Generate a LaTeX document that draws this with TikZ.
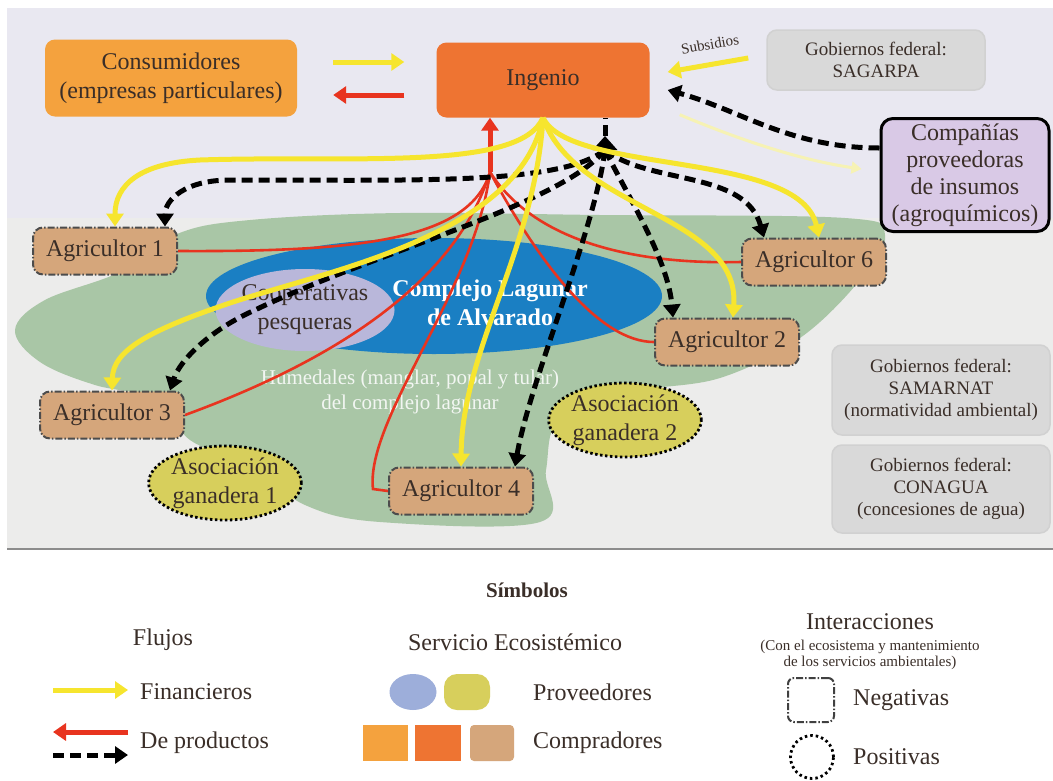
\documentclass[tikz,border=0pt]{standalone}
\usepackage{fontspec}
\setmainfont{Liberation Serif}
\usetikzlibrary{arrows.meta,calc,shapes.geometric}
\definecolor{bgtop}{HTML}{E9E8F1}
\definecolor{bgbot}{HTML}{ECECEB}
\definecolor{wet}{HTML}{A9C6A6}
\definecolor{lagoon}{HTML}{1A7FC3}
\definecolor{coop}{HTML}{B9B7DA}
\definecolor{legblue}{HTML}{9DAEDA}
\definecolor{consum}{HTML}{F4A23E}
\definecolor{ingcol}{HTML}{EE7432}
\definecolor{tan}{HTML}{D5A67B}
\definecolor{purp}{HTML}{D9C9E6}
\definecolor{gov}{HTML}{D9D9D9}
\definecolor{asoc}{HTML}{D7CF5C}
\definecolor{ylw}{HTML}{F6E52E}
\definecolor{pale}{HTML}{F6F2B4}
\definecolor{rd}{HTML}{E8341F}
\definecolor{txt}{HTML}{3A2E28}
\newcommand\fBig{\fontsize{24}{29}\selectfont}
\newcommand\fMid{\fontsize{19}{22}\selectfont}
\newcommand\fSm{\fontsize{15}{16}\selectfont}
\tikzset{
  box/.style={rounded corners=10pt, align=center, text=txt, font=\fBig, inner sep=2pt},
  agri/.style={box, fill=tan, draw=black!70, line width=2pt,
    dash pattern=on 7pt off 2pt on 1.5pt off 2pt, minimum width=144pt, minimum height=47pt},
  gob/.style={box, fill=gov, draw=black!18, line width=1.5pt, font=\fMid, minimum width=218pt},
  asc/.style={ellipse, fill=asoc, draw=black, line width=2.8pt, dash pattern=on 2.5pt off 2.5pt,
    align=center, text=txt, font=\fBig, inner sep=0pt, minimum width=140pt, minimum height=74pt},
  ylwarrow/.style={draw=ylw, line width=5pt, -{Triangle[width=17pt,length=13pt]}},
  redarrow/.style={draw=rd, line width=5pt, -{Triangle[width=17pt,length=13pt]}},
  redline/.style={draw=rd, line width=2.6pt},
  blkarrow/.style={draw=black, line width=5pt, dash pattern=on 11pt off 6pt, -{Triangle[width=17pt,length=13pt]}},
  blkline/.style={draw=black, line width=5pt, dash pattern=on 11pt off 6pt},
  lbl/.style={text=txt, font=\fBig, inner sep=0pt}
}
\begin{document}
\begin{tikzpicture}[x=1pt,y=-1pt]
\useasboundingbox (0,0) rectangle (1053,780);
\fill[white] (0,0) rectangle (1053,780);
\fill[bgtop] (7,8) rectangle (1053,218);
\fill[bgbot] (7,218) rectangle (1053,548);
\draw[black!45, line width=2.5pt] (7,549) -- (1053,549);

% wetland
\fill[wet] plot[smooth cycle, tension=0.6] coordinates {
 (177,234) (120,272) (45,300) (15,330) (40,362) (95,385) (160,400) (190,440)
 (255,468) (305,505) (380,522) (540,522) (546,470) (560,418) (630,392) (720,378)
 (800,338) (860,280) (885,235) (845,218) (600,215) (400,213) (250,220)};
% lagoon
\fill[lagoon] (434,296) ellipse [x radius=228, y radius=58];
\node[ellipse, fill=coop, minimum width=150pt, minimum height=82pt, inner sep=0pt,
  align=center, text=txt, font=\fBig] (coopn) at (305,310) {Cooperativas\\pesqueras};
\node[align=center, text=white, font=\fBig\bfseries, inner sep=0pt] (lagtxt) at (490,303)
  {Complejo Lagunar\\de Alvarado};
\node[align=center, text=white!85!wet, font=\fontsize{21}{25}\selectfont, inner sep=0pt] (humtxt) at (410,392)
  {Humedales (manglar, popal y tular)\\del complejo lagunar};

% main nodes
\node[box, fill=consum, minimum width=252pt, minimum height=77pt] (cons) at (171,78)
  {Consumidores\\(empresas particulares)};
\node[box, fill=ingcol, minimum width=213pt, minimum height=75pt] (ing) at (543,80) {Ingenio};
\node[gob, minimum height=60pt] (sag) at (876,60) {Gobiernos federal:\\SAGARPA};
\node[box, fill=purp, draw=black, line width=3pt, rounded corners=12pt, minimum width=168pt,
  minimum height=113pt, font=\fontsize{24}{27}\selectfont] (comp) at (965,175)
  {Compañías\\proveedoras\\de insumos\\(agroquímicos)};
\node[gob, minimum height=90pt] (sam) at (941,390) {Gobiernos federal:\\SAMARNAT\\(normatividad ambiental)};
\node[gob, minimum height=88pt] (cna) at (941,489) {Gobiernos federal:\\CONAGUA\\(concesiones de agua)};

\node[agri] (ag1) at (105,251) {Agricultor 1};
\node[agri] (ag6) at (814,262) {Agricultor 6};
\node[agri] (ag2) at (727,342) {Agricultor 2};
\node[agri] (ag3) at (112,415) {Agricultor 3};
\node[agri] (ag4) at (461,491) {Agricultor 4};
\node[asc] (as1) at (225,483) {Asociación\\ganadera 1};
\node[asc] (as2) at (625,420) {Asociación\\ganadera 2};

% junctions
\coordinate (jr) at (490,172);
\coordinate (jb) at (605,150);
\coordinate (jbt) at (605,136);

% red product lines to ingenio
\draw[redline] (ag1.east) .. controls (360,252) and (470,240) .. (jr);
\draw[redline] (ag3.east) .. controls (330,362) and (455,285) .. (jr);
\draw[redline] (ag4.west) -- ($(ag4.west)+(-15,-2)$) .. controls (365,420) and (475,290) .. (jr);
\draw[redline] (ag2.west) .. controls (600,342) and (540,265) .. (jr);
\draw[redline] (ag6.west) .. controls (620,265) and (530,235) .. (jr);
\draw[redarrow] (jr) -- ($(ing.south)+(-53,0)$);

% black dashed product lines
\draw[blkline] (jbt) -- (ing.south -| jbt);
\draw[draw=black, line width=5pt, -{Triangle[width=24pt,length=14pt]}] (jb) -- (jbt);
\draw[blkarrow] (jb) .. controls (560,185) and (420,180) .. (230,180) .. controls (185,180) and (165,200) .. ($(ag1.north)+(60,0)$);
\draw[blkarrow] (jb) .. controls (560,205) and (380,250) .. (255,310) .. controls (210,330) and (180,360) .. ($(ag3.north)+(58,0)$);
\draw[blkarrow] (jb) .. controls (595,230) and (530,380) .. ($(ag4.north)+(54,0)$);
\draw[blkarrow] (jb) .. controls (630,200) and (668,260) .. ($(ag2.north)+(-54,0)$);
\draw[blkarrow] (jb) .. controls (650,185) and (745,170) .. ($(ag6.north)+(-50,0)$);
\draw[blkarrow] ($(comp.west)+(0,-27)$) .. controls (790,148) and (740,110) .. ($(ing.east)+(18,10)$);

% yellow financial flows
\draw[ylwarrow] (ing.south) .. controls (520,172) and (350,155) .. (200,160) .. controls (140,163) and (115,185) .. ($(ag1.north)+(10,0)$);
\draw[ylwarrow] (ing.south) .. controls (520,235) and (330,270) .. (230,303) .. controls (150,330) and (113,350) .. (ag3.north);
\draw[ylwarrow] (ing.south) .. controls (535,250) and (462,350) .. (ag4.north);
\draw[ylwarrow] (ing.south) .. controls (575,210) and (740,215) .. ($(ag2.north)+(6,0)$);
\draw[ylwarrow] (ing.south) .. controls (570,175) and (800,150) .. ($(ag6.north)+(5,0)$);
\draw[draw=pale, line width=3pt, -{Triangle[width=12pt,length=10pt]}] ($(ing.south east)+(30,-3)$) .. controls (740,140) and (800,160) .. ($(comp.west)+(-18,-6)$);
\draw[ylwarrow] ($(sag.west)+(-18,-2)$) -- ($(ing.east)+(18,-8)$);
\node[lbl, font=\fSm, rotate=10] (subs) at (710,44) {Subsidios};

% consumidores <-> ingenio
\draw[ylwarrow] ($(cons.east)+(36,-16)$) -- ($(ing.west)+(-32,-18)$);
\draw[redarrow] ($(ing.west)+(-32,15)$) -- ($(cons.east)+(36,17)$);

% legend
\node[lbl, font=\fontsize{21}{24}\selectfont\bfseries] (simb) at (527,590) {Símbolos};
\node[lbl] (fluj) at (163,640) {Flujos};
\coordinate (lf1a) at (53,690); \coordinate (lf1b) at (128,690);
\draw[ylwarrow] (lf1a) -- (lf1b);
\node[lbl, anchor=west] (finan) at (140,692) {Financieros};
\coordinate (lf2a) at (128,732); \coordinate (lf2b) at (53,732);
\draw[redarrow] (lf2a) -- (lf2b);
\coordinate (lf3a) at (53,755); \coordinate (lf3b) at (128,755);
\draw[blkarrow] (lf3a) -- (lf3b);
\node[lbl, anchor=west] (deprod) at (140,743) {De productos};

\node[lbl] (serv) at (515,642) {Servicio Ecosistémico};
\node[ellipse, fill=legblue, minimum width=47pt, minimum height=36pt, inner sep=0pt] (le1) at (413,692) {};
\node[rounded corners=13pt, fill=asoc, minimum width=46pt, minimum height=36pt, inner sep=0pt] (le2) at (467,692) {};
\node[lbl, anchor=west] (prov) at (533,692) {Proveedores};
\node[fill=consum, minimum width=45pt, minimum height=36pt, inner sep=0pt] (ls1) at (385,743) {};
\node[fill=ingcol, minimum width=46pt, minimum height=36pt, inner sep=0pt] (ls2) at (438,743) {};
\node[fill=tan, rounded corners=4pt, minimum width=44pt, minimum height=36pt, inner sep=0pt] (ls3) at (492,743) {};
\node[lbl, anchor=west] (compr) at (533,743) {Compradores};

\node[lbl] (inter) at (870,622) {Interacciones};
\node[lbl, font=\fSm, align=center] (intsub) at (870,655) {(Con el ecosistema y mantenimiento\\de los servicios ambientales)};
\node[draw=black!75, line width=2pt, dash pattern=on 7pt off 2pt on 1.5pt off 2pt, rounded corners=6pt,
  minimum width=46pt, minimum height=44pt] (lneg) at (811,700) {};
\node[lbl, anchor=west] (neg) at (853,700) {Negativas};
\node[circle, draw=black, line width=2.8pt, dash pattern=on 2.5pt off 3pt, minimum size=43pt, inner sep=0pt] (lpos) at (812,757) {};
\node[lbl, anchor=west] (pos) at (853,757) {Positivas};
\end{tikzpicture}
\end{document}
